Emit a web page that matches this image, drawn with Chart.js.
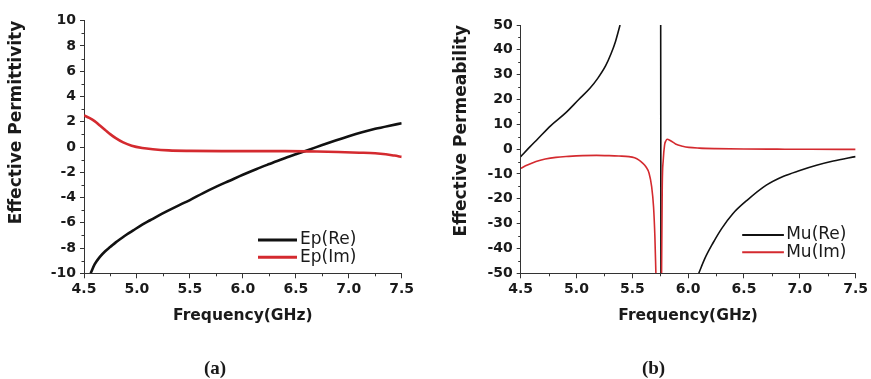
<!DOCTYPE html>
<html><head><meta charset="utf-8">
<script src="https://cdn.jsdelivr.net/npm/chart.js@4.4.1/dist/chart.umd.min.js"></script>
<style>
html,body{margin:0;padding:0;background:#fff;width:871px;height:379px;overflow:hidden}
#a{position:absolute;left:0;top:0}
#b{position:absolute;left:436px;top:0}
</style></head><body>
<canvas id="a" width="436" height="379"></canvas>
<canvas id="b" width="435" height="379"></canvas>
<script>
// ---- tick values / labels ----
const freqTicks = [4.5, 5.0, 5.5, 6.0, 6.5, 7.0, 7.5];
const freqTickLabels = ['4.5', '5.0', '5.5', '6.0', '6.5', '7.0', '7.5'];
const freqMinorTicks = [4.75, 5.25, 5.75, 6.25, 6.75, 7.25];
const epTicks = [-10, -8, -6, -4, -2, 0, 2, 4, 6, 8, 10];
const epMinorTicks = [-9, -7, -5, -3, -1, 1, 3, 5, 7, 9];
const muTicks = [-50, -40, -30, -20, -10, 0, 10, 20, 30, 40, 50];
const muMinorTicks = [-45, -35, -25, -15, -5, 5, 15, 25, 35, 45];

// ---- (a) Effective permittivity ----
const epReFreq = [4.563, 4.60, 4.65, 4.70, 4.75, 4.80, 4.85, 4.90, 4.965, 5.05, 5.125, 5.2, 5.28, 5.4, 5.5, 5.625, 5.75, 5.875, 6.0, 6.125, 6.25, 6.375, 6.5, 6.625, 6.75, 6.875, 7.0, 7.125, 7.25, 7.375, 7.5];
const epReVal  = [-10, -9.3, -8.7, -8.25, -7.9, -7.55, -7.25, -6.95, -6.6, -6.15, -5.8, -5.45, -5.1, -4.6, -4.2, -3.65, -3.14, -2.67, -2.2, -1.76, -1.35, -0.95, -0.58, -0.22, 0.16, 0.52, 0.86, 1.17, 1.44, 1.67, 1.88];
const epImFreq = [4.5, 4.55, 4.6, 4.65, 4.7, 4.75, 4.8, 4.87, 4.95, 5.05, 5.15, 5.3, 5.5, 5.8, 6.1, 6.4, 6.7, 6.9, 7.1, 7.25, 7.35, 7.43, 7.5];
const epImVal  = [2.5, 2.3, 2.05, 1.7, 1.35, 1.0, 0.7, 0.36, 0.1, -0.08, -0.18, -0.27, -0.31, -0.33, -0.33, -0.33, -0.36, -0.4, -0.45, -0.5, -0.58, -0.68, -0.78];

// ---- (b) Effective permeability (null = curve leaves the plotted range) ----
const muReFreq = [4.5, 4.58, 4.65, 4.77, 4.90, 5.02, 5.12, 5.19, 5.26, 5.31, 5.35, 5.39, 5.5, 5.754, 5.756, 5.9, 6.095, 6.15, 6.22, 6.30, 6.40, 6.53, 6.70, 6.85, 7.0, 7.15, 7.3, 7.5];
const muReVal  = [-3, 0.8, 4.0, 9.5, 14.5, 20, 24.5, 28.5, 33.5, 38.5, 43.5, 50, null, 50, -50, null, -50, -44, -38, -32, -26, -20.5, -14.5, -11, -8.6, -6.5, -4.8, -3.0];
const muImFreq = [4.5, 4.56, 4.637, 4.72, 4.815, 4.93, 5.054, 5.18, 5.292, 5.38, 5.47, 5.52, 5.56, 5.59, 5.62, 5.65, 5.673, 5.69, 5.702, 5.711, 5.74, 5.762, 5.768, 5.777, 5.789, 5.80, 5.812, 5.842, 5.887, 5.95, 6.006, 6.1, 6.244, 6.5, 6.8, 7.1, 7.5];
const muImVal  = [-7.7, -6.4, -5.0, -4.0, -3.3, -2.9, -2.6, -2.5, -2.6, -2.75, -3.0, -3.5, -4.4, -5.5, -7.0, -9.7, -15.1, -23.2, -35.2, -50, null, -50, -15.1, -4.4, 1.7, 3.3, 4.0, 3.4, 2.1, 1.2, 0.7, 0.4, 0.2, 0.05, 0, -0.05, -0.1];

const BLACK = '#111111', RED = '#d42a2f', AXIS = '#333333', TEXT = '#1a1a1a';
Chart.defaults.font.family = "'DejaVu Sans', sans-serif";
Chart.defaults.color = TEXT;

const zip = (xs, ys) => xs.map((x, i) => ({x: x, y: ys[i]}));

const decor = {
  id: 'decor',
  afterDraw(chart, args, o) {
    const ctx = chart.ctx, ca = chart.chartArea;
    const xs = chart.scales.x, ys = chart.scales.y;
    ctx.save();
    ctx.strokeStyle = AXIS; ctx.lineWidth = 1;
    ctx.beginPath();
    o.xMinor.forEach(v => { const p = Math.round(xs.getPixelForValue(v)) + 0.5; ctx.moveTo(p, ca.bottom); ctx.lineTo(p, ca.bottom + 3); });
    o.yMinor.forEach(v => { const p = Math.round(ys.getPixelForValue(v)) + 0.5; ctx.moveTo(ca.left, p); ctx.lineTo(ca.left - 2.5, p); });
    ctx.stroke();
    chart.data.datasets.forEach((ds, i) => {
      const y = ca.bottom + o.rows[i];
      ctx.strokeStyle = ds.borderColor; ctx.lineWidth = o.lw;
      ctx.beginPath(); ctx.moveTo(ca.right + o.x0, y); ctx.lineTo(ca.right + o.x1, y); ctx.stroke();
      ctx.fillStyle = TEXT; ctx.font = "17px 'DejaVu Sans'"; ctx.textBaseline = 'middle'; ctx.textAlign = 'left';
      ctx.fillText(ds.label, ca.right + o.tx, y);
    });
    // panel caption
    ctx.fillStyle = TEXT; ctx.font = "bold 19px 'Liberation Serif'";
    ctx.textAlign = 'center'; ctx.textBaseline = 'alphabetic';
    ctx.fillText(o.caption, o.capX, 374);
    ctx.restore();
  }
};

function makeChart(id, p) {
  return new Chart(document.getElementById(id), {
    type: 'line',
    data: {
      datasets: [
        {label: p.labels[0], data: p.re, borderColor: BLACK, borderWidth: p.lw, order: 1},
        {label: p.labels[1], data: p.im, borderColor: RED, borderWidth: p.lw, order: 0}
      ]
    },
    options: {
      responsive: false, animation: false, events: [],
      parsing: false, spanGaps: false,
      elements: {point: {radius: 0}, line: {cubicInterpolationMode: 'monotone', borderJoinStyle: 'round', borderCapStyle: 'butt', fill: false}},
      layout: {padding: {top: p.top, right: p.right, left: 0, bottom: 25.2}},
      plugins: {
        legend: {display: false}, tooltip: {enabled: false}, title: {display: false},
        decor: {xMinor: freqMinorTicks, yMinor: p.yMinor, rows: p.rows, x0: p.lx0, x1: p.lx1, tx: p.tx, lw: p.llw,
                caption: p.caption, capX: p.capX}
      },
      scales: {
        x: {
          type: 'linear', min: 4.5, max: 7.5,
          afterBuildTicks: s => { s.ticks = freqTicks.map(v => ({value: v})); },
          afterFit: s => { s.height = 80.5; },
          ticks: {autoSkip: false, maxRotation: 0, padding: 3, color: TEXT, font: {size: 14, weight: 'bold'},
                  callback: (v, i) => freqTickLabels[i]},
          grid: {drawOnChartArea: false, drawTicks: true, tickLength: 5, color: AXIS},
          border: {display: true, color: AXIS, width: 1},
          title: {display: true, text: 'Frequency(GHz)', color: TEXT, font: {size: 15.5, weight: 'bold'}, padding: {top: 0, bottom: 28.2}}
        },
        y: {
          type: 'linear', min: p.ymin, max: p.ymax,
          afterBuildTicks: s => { s.ticks = p.yTicks.map(v => ({value: v})); },
          afterFit: s => { s.width = p.yw; },
          ticks: {autoSkip: false, padding: 4, color: TEXT, font: {size: 14, weight: 'bold'}, callback: v => String(v)},
          grid: {drawOnChartArea: false, drawTicks: true, tickLength: 4, color: AXIS},
          border: {display: true, color: AXIS, width: 1},
          title: {display: true, text: p.ytitle, align: 'end', color: TEXT, font: {size: 17, weight: 'bold'}, padding: {top: p.tpad, bottom: 0}}
        }
      }
    },
    plugins: [decor]
  });
}

makeChart('a', {
  labels: ['Ep(Re)', 'Ep(Im)'], re: zip(epReFreq, epReVal), im: zip(epImFreq, epImVal),
  lw: 2.6, top: 20.7, right: 34.3, yw: 84, ymin: -10, ymax: 10, yTicks: epTicks, yMinor: epMinorTicks,
  ytitle: 'Effective Permittivity', tpad: 6.6, caption: '(a)', capX: 215,
  rows: [-33.3, -16], lx0: -143.7, lx1: -104.7, tx: -101.7, llw: 3
});
makeChart('b', {
  labels: ['Mu(Re)', 'Mu(Im)'], re: zip(muReFreq, muReVal), im: zip(muImFreq, muImVal),
  lw: 1.6, top: 25, right: 14.3, yw: 84.7, ymin: -50, ymax: 50, yTicks: muTicks, yMinor: muMinorTicks,
  ytitle: 'Effective Permeability', tpad: 15.6, caption: '(b)', capX: 217.5,
  rows: [-38.3, -21], lx0: -113.4, lx1: -71.7, tx: -69.4, llw: 2
});
</script>
</body></html>
